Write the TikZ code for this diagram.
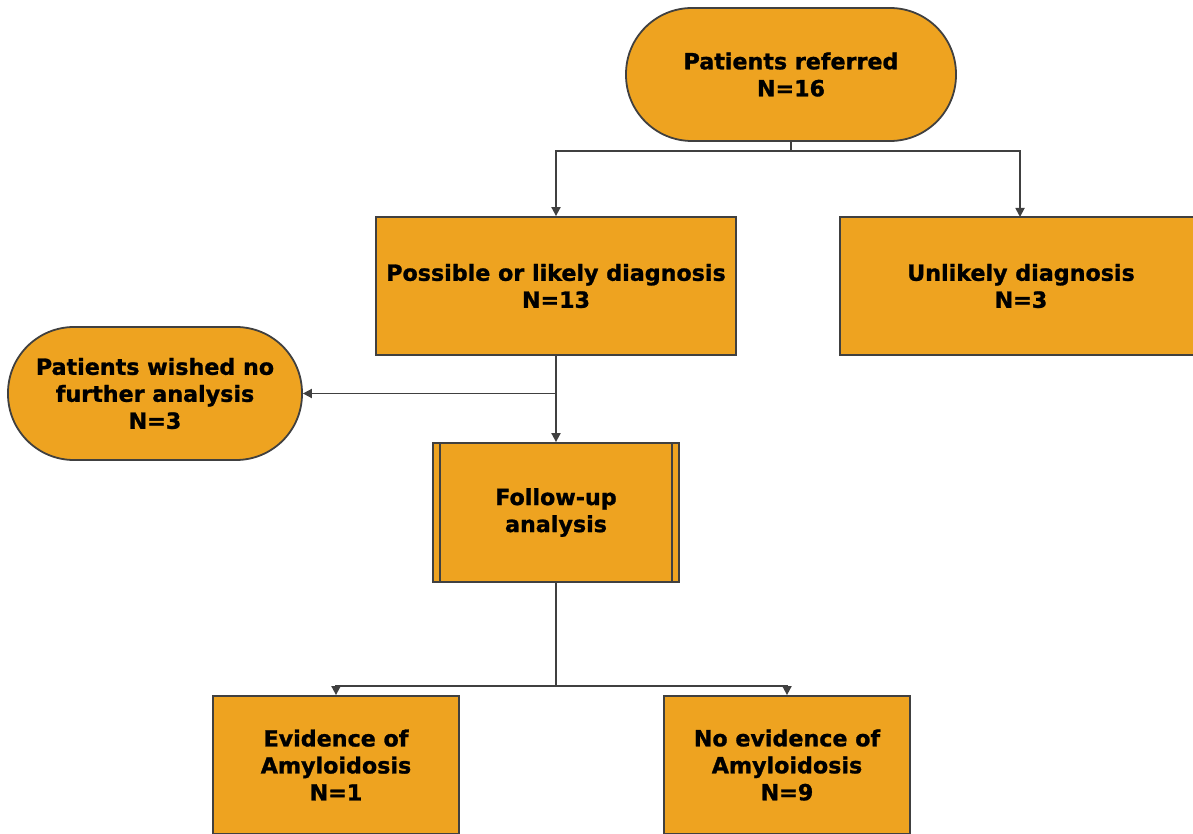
\documentclass[tikz,border=0pt]{standalone}
\usepackage{fontspec}
\setmainfont{DejaVu Sans}[BoldFeatures={FakeBold=1.2}]
\usetikzlibrary{arrows.meta}
\definecolor{boxfill}{HTML}{EEA320}
\definecolor{linec}{HTML}{404040}
\tikzset{
  base/.style={draw=linec, line width=1.8pt, fill=boxfill, align=center,
    font=\fontsize{22.2}{27}\selectfont\bfseries, inner sep=0pt},
  stadium/.style={base, rounded corners=66pt},
  procbox/.style={base},
  conn/.style={draw=linec, line width=1.8pt},
  arr/.style={conn, -{Triangle[length=9pt,width=9pt]}},
}
\begin{document}
\begin{tikzpicture}[x=1pt,y=-1pt]
\useasboundingbox (0,0) rectangle (1193,834);
\node[stadium, minimum width=330pt, minimum height=133pt] (ref) at (791,74.5) {Patients referred\\N=16};
\node[procbox, minimum width=360pt, minimum height=138pt] (pos) at (556,286) {Possible or likely diagnosis\\N=13};
\node[procbox, minimum width=362pt, minimum height=138pt] (unl) at (1021,286) {Unlikely diagnosis\\N=3};
\node[stadium, minimum width=294pt, minimum height=133pt] (wish) at (155,393.5) {Patients wished no\\further analysis\\N=3};
\node[procbox, minimum width=246pt, minimum height=139pt] (fu) at (556,512.5) {Follow-up\\analysis};
\draw[conn] ([xshift=8pt]fu.north west) -- ([xshift=8pt]fu.south west);
\draw[conn] ([xshift=-8pt]fu.north east) -- ([xshift=-8pt]fu.south east);
\node[procbox, minimum width=246pt, minimum height=138pt] (evi) at (336,765) {Evidence of\\Amyloidosis\\N=1};
\node[procbox, minimum width=246pt, minimum height=138pt] (noe) at (787,765) {No evidence of\\Amyloidosis\\N=9};
\coordinate (j1) at (791,151);
\coordinate (j2) at (556,393.5);
\coordinate (j3) at (556,686);
\draw[conn] (ref.south) -- (j1);
\draw[arr] (j1) -| (pos.north);
\draw[arr] (j1) -| (1020,217);
\draw[arr] (pos.south) -- (fu.north);
\draw[arr] (j2) -- (wish.east);
\draw[conn] (fu.south) -- (j3);
\draw[arr] (j3) -| (evi.north);
\draw[arr] (j3) -| (noe.north);
\end{tikzpicture}
\end{document}
